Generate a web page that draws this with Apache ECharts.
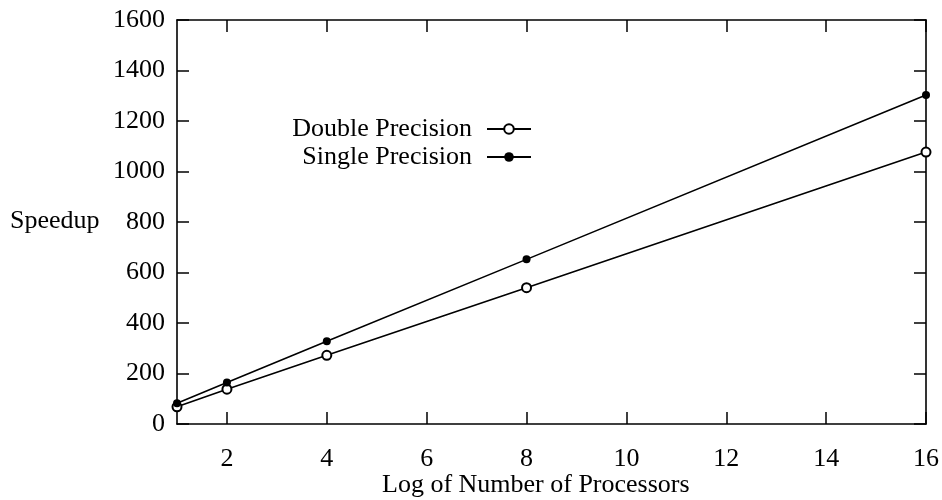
<!DOCTYPE html>
<html>
<head>
<meta charset="utf-8">
<script src="https://cdn.jsdelivr.net/npm/echarts@6/dist/echarts.min.js"></script>
<style>
html,body{margin:0;padding:0;background:#fff;}
#chart{width:942px;height:500px;}
</style>
</head>
<body>
<div id="chart"></div>
<script>
var processors = [1, 2, 4, 8, 16];
var doublePrecision = [68, 138, 272, 540, 1077];
var singlePrecision = [82, 164, 328, 652, 1303];
var xTicks = [2, 4, 6, 8, 10, 12, 14, 16];
var yTicks = [0, 200, 400, 600, 800, 1000, 1200, 1400, 1600];

var FONT = 'Liberation Serif';
var chart = echarts.init(document.getElementById('chart'));

function pairs(xs, ys) { return xs.map(function (x, i) { return [x, ys[i]]; }); }
function plain(v) { return String(v); }

var axisLineStyle = { color: '#000', width: 1.6 };
function ticks(vals) {
  return { show: true, inside: true, length: 12, customValues: vals, lineStyle: { color: '#000', width: 1.5 } };
}

chart.setOption({
  animation: false,
  backgroundColor: '#fff',
  grid: { left: 177, right: 12, top: 20, bottom: 76, containLabel: false },
  xAxis: [
    {
      type: 'value', min: 1, max: 16, position: 'bottom',
      axisLine: { show: true, onZero: false, lineStyle: axisLineStyle },
      axisTick: ticks(xTicks),
      axisLabel: { customValues: xTicks, formatter: plain, color: '#000', fontFamily: FONT, fontSize: 26, margin: 22 },
      splitLine: { show: false }
    },
    {
      type: 'value', min: 1, max: 16, position: 'top',
      axisLine: { show: true, onZero: false, lineStyle: axisLineStyle },
      axisTick: ticks(xTicks),
      axisLabel: { show: false },
      splitLine: { show: false }
    }
  ],
  yAxis: [
    {
      type: 'value', min: 0, max: 1600, interval: 200, position: 'left',
      axisLine: { show: true, onZero: false, lineStyle: axisLineStyle },
      axisTick: { show: true, inside: true, length: 12, lineStyle: { color: '#000', width: 1.5 } },
      axisLabel: { formatter: plain, color: '#000', fontFamily: FONT, fontSize: 26, margin: 12 },
      splitLine: { show: false }
    },
    {
      type: 'value', min: 0, max: 1600, interval: 200, position: 'right',
      axisLine: { show: true, onZero: false, lineStyle: axisLineStyle },
      axisTick: { show: true, inside: true, length: 12, lineStyle: { color: '#000', width: 1.5 } },
      axisLabel: { show: false },
      splitLine: { show: false }
    }
  ],
  legend: [
    {
      data: ['Double Precision'], orient: 'vertical', align: 'right',
      right: 405, top: 111, itemWidth: 44, itemHeight: 12,
      textStyle: { color: '#000', fontFamily: FONT, fontSize: 26, padding: [0, 10, 0, 0] }
    },
    {
      data: ['Single Precision'], orient: 'vertical', align: 'right',
      right: 405, top: 139, itemWidth: 44, itemHeight: 12,
      textStyle: { color: '#000', fontFamily: FONT, fontSize: 26, padding: [0, 10, 0, 0] }
    }
  ],
  graphic: [
    { type: 'text', left: 10, top: 208, style: { text: 'Speedup', fill: '#000', font: '26px "Liberation Serif"' } },
    { type: 'text', left: 382, top: 472, style: { text: 'Log of Number of Processors', fill: '#000', font: '26px "Liberation Serif"' } }
  ],
  series: [
    {
      name: 'Double Precision', type: 'line', data: pairs(processors, doublePrecision),
      symbol: 'emptyCircle', symbolSize: 9, showAllSymbol: true,
      lineStyle: { color: '#000', width: 1.6 },
      itemStyle: { color: '#000', borderColor: '#000', borderWidth: 1.3 }
    },
    {
      name: 'Single Precision', type: 'line', data: pairs(processors, singlePrecision),
      symbol: 'circle', symbolSize: 8, showAllSymbol: true,
      lineStyle: { color: '#000', width: 1.6 },
      itemStyle: { color: '#000' }
    }
  ]
});
</script>
</body>
</html>
